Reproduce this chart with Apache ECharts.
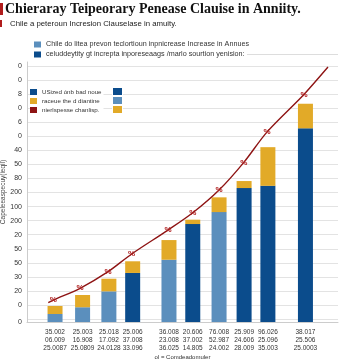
<!DOCTYPE html>
<html><head><meta charset="utf-8">
<script src="https://cdn.jsdelivr.net/npm/echarts@6/dist/echarts.min.js"></script>
<style>html,body{margin:0;padding:0;background:#fff}#c{width:359px;height:359px}</style>
</head><body><div id="c"></div>
<script>
const titleText = 'Chieraray Teipeorary Penease Clauise in Anniity.';
const subtitleText = 'Chile a peteroun Incresion Clauselase in amuity.';
const seriesNames = ['Chile do litea prevon teclortioun inpnicrease Increase in Annues',
  'celuddeytity gt increpta inporeseaags /marlo sourtion yenision:',
  'USized ónb bad noue', 'raceue the d diantine', 'nierlspesse chanlisp.'];
const xLabels1 = ['35.002','25.003','25.018','25.006','36.008','20.606','76.008','25.909','96.026','38.017'];
const xLabels2 = ['06.009','16.908','17.092','37.008','23.008','37.002','52.987','24.606','25.096','25.506'];
const xLabels3 = ['25.0087','25.0809','24.0128','33.096','36.025','14.805','24.002','28.009','35.003','25.0003'];
const xPos = [0, 1.1, 2.15, 3.1, 4.55, 5.5, 6.55, 7.55, 8.5, 10];
const lightVals = [0.57, 1.05, 2.18, 0, 4.43, 0, 7.82, 0, 0, 0];
const darkVals  = [0, 0, 0, 3.49, 0, 6.97, 0, 9.53, 9.69, 13.78];
const goldVals  = [0.57, 0.87, 0.90, 0.83, 1.40, 0.31, 1.05, 0.50, 2.75, 1.75];
const lineX    = [-0.07, 1.0, 2.12, 3.06, 4.51, 5.5, 6.55, 7.54, 8.47, 9.94];
const lineVals = [1.56, 2.40, 3.58, 4.84, 6.54, 7.77, 9.39, 11.36, 13.53, 16.19];
const lineStart = [-0.27, 1.38];
const lineEnd = [10.9, 18.14];
const yTickLabels = ['0','0','20','30','50','50','20','200','100','200','80','50','40','0','6','0','8','0','0'];
const yLabelValues = [0,1.21,2.21,3.21,4.21,5.21,6.21,7.21,8.21,9.21,10.21,11.21,12.21,13.21,14.21,15.21,16.21,17.21,18.21];
const yGridValues = [0.21,1.21,2.21,3.21,4.21,5.21,6.21,7.21,8.21,9.21,10.21,11.21,12.21,13.21,14.21,15.21,16.21,17.21,18.21];
const yAxisName = 'Capeleeaspecuy(ieqil)';
const xAxisName = 'ol = Comdeadomuler';

const C_LIGHT = '#5b8fbd', C_DARK = '#0b4c8c', C_GOLD = '#e2aa28', C_RED = '#8e1414';
const FONT = 'Liberation Sans';

const chart = echarts.init(document.getElementById('c'), null, {renderer:'canvas'});
const pair = (xs, ys) => xs.map((x,i)=>[x, ys[i]]);
// bar rows are [value, x] so the stacked dimension is the value (y) one
const barRows = (ys) => xPos.map((x,i)=>[ys[i], x]);
const lineData = [{value: lineStart, symbol:'none', label:{show:false}}]
  .concat(pair(lineX, lineVals))
  .concat([{value: lineEnd, symbol:'none', label:{show:false}}]);

chart.setOption({
  animation:false,
  textStyle:{fontFamily:FONT},
  title:[
    {text:titleText, left:5, top:2, padding:0, textStyle:{fontFamily:'Liberation Serif', fontWeight:'bold', fontSize:14, color:'#111'}},
    {text:subtitleText, left:10, top:20, padding:0, textStyle:{fontFamily:FONT, fontWeight:'normal', fontSize:7.8, color:'#222'}}
  ],
  graphic:[
    {type:'rect', shape:{x:0,y:3,width:3,height:12}, style:{fill:'#b01c1c'}},
    {type:'rect', shape:{x:0,y:20,width:2,height:7}, style:{fill:'#b01c1c'}},
    {type:'line', shape:{x1:247,y1:54.5,x2:338,y2:54.5}, style:{stroke:'#dddddd', lineWidth:1}}
  ],
  legend:[
    {data:[seriesNames[0], seriesNames[1]], left:34, top:41, orient:'vertical', itemGap:3, itemWidth:7, itemHeight:6, icon:'rect',
     textStyle:{fontSize:7.2, color:'#333', fontFamily:FONT}, padding:0},
    {data:[seriesNames[2], seriesNames[3], seriesNames[4]], left:30, top:88, orient:'vertical', itemGap:3, itemWidth:7, itemHeight:6,
     icon:'rect', backgroundColor:'#fff', padding:[1,2,1,0],
     textStyle:{fontSize:6.2, color:'#333', fontFamily:FONT}},
    {data:[seriesNames[2], seriesNames[0], seriesNames[3]], left:112, top:87, orient:'vertical', itemGap:2, itemWidth:9, itemHeight:7,
     icon:'rect', formatter:()=>'', backgroundColor:'#fff', padding:[1,1,1,1], textStyle:{fontSize:1}}
  ],
  grid:{left:27, right:21, top:62, bottom:37, containLabel:false, outerBoundsMode:'none'},
  xAxis:{type:'value', min:-1.12, max:11.3,
    name:xAxisName, nameLocation:'middle', nameGap:32, nameMoveOverlap:false, nameTextStyle:{fontSize:6, color:'#333'},
    axisLine:{show:true, onZero:false, lineStyle:{color:'#cccccc'}},
    axisTick:{show:false, customValues:xPos},
    splitLine:{show:false},
    axisLabel:{customValues:xPos, fontSize:6.5, lineHeight:8, color:'#333', margin:6,
      formatter:(v, i)=>{ let k = xPos.findIndex(p=>Math.abs(p-v)<1e-6); if(k<0) k=i; return xLabels1[k]+'\n'+xLabels2[k]+'\n'+xLabels3[k]; }}
  },
  yAxis:{type:'value', min:0, max:18.5,
    name:yAxisName, nameLocation:'middle', nameGap:20, nameRotate:90, nameMoveOverlap:false, nameTextStyle:{fontSize:6.5, color:'#444'},
    axisLine:{show:true, onZero:false, lineStyle:{color:'#cccccc'}},
    axisTick:{show:false, customValues:yGridValues},
    splitLine:{show:true, lineStyle:{color:'#e3e3e3', width:1}},
    axisLabel:{customValues:yLabelValues, fontSize:7, color:'#333', margin:5,
      formatter:(v, i)=>{ let k = yLabelValues.findIndex(p=>Math.abs(p-v)<1e-6); if(k<0) k=i; return yTickLabels[k]; }}
  },
  series:[
    {name:seriesNames[0], type:'bar', stack:'a', barWidth:15, encode:{x:1, y:0}, data:barRows(lightVals), itemStyle:{color:C_LIGHT}},
    {name:seriesNames[2], type:'bar', stack:'a', barWidth:15, encode:{x:1, y:0}, data:barRows(darkVals), itemStyle:{color:C_DARK}},
    {name:seriesNames[3], type:'bar', stack:'a', barWidth:15, encode:{x:1, y:0}, data:barRows(goldVals), itemStyle:{color:C_GOLD}},
    {name:seriesNames[1], type:'line', data:[], itemStyle:{color:C_DARK}},
    {name:seriesNames[4], type:'line', data:lineData, smooth:0.3, symbol:'circle', symbolSize:1,
      lineStyle:{color:C_RED, width:1.4}, itemStyle:{color:C_RED},
      label:{show:true, formatter:'%', position:'inside', fontSize:8, color:'#b02020', fontWeight:'bold'}, z:5}
  ]
});
</script></body></html>
